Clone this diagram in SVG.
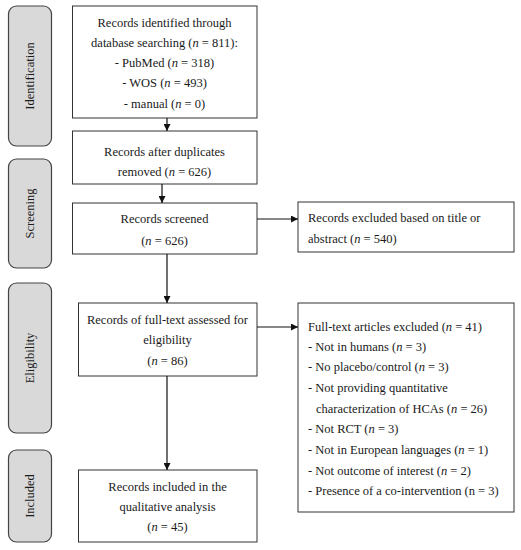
<svg xmlns="http://www.w3.org/2000/svg" width="521" height="550" viewBox="0 0 521 550">
<style>
text{font-family:"Liberation Serif","Times New Roman",serif;font-size:12.5px;fill:#1a1a1a}
.c{text-anchor:middle}
.box{fill:#fff;stroke:#333;stroke-width:1}
.side{fill:#d9d9d9;stroke:#444;stroke-width:1.2}
.ln{stroke:#111;stroke-width:1.2;fill:none;marker-end:url(#ah)}
i,.it{font-style:italic}
</style>
<defs>
<marker id="ah" viewBox="0 0 10 10" refX="10" refY="5" markerWidth="7" markerHeight="7" markerUnits="userSpaceOnUse" orient="auto">
<path d="M0,0 L10,5 L0,10 z" fill="#111"/>
</marker>
</defs>
<rect width="521" height="550" fill="#fff"/>
<g id="stage-identification"><rect class="side" x="8.5" y="6" width="43" height="140" rx="8"/><text class="c" transform="translate(34,76) rotate(-90)">Identification</text></g>
<g id="stage-screening"><rect class="side" x="8.5" y="159" width="43" height="109" rx="8"/><text class="c" transform="translate(34,213.5) rotate(-90)">Screening</text></g>
<g id="stage-eligibility"><rect class="side" x="8.5" y="283" width="43" height="150" rx="8"/><text class="c" transform="translate(34,358) rotate(-90)">Eligibility</text></g>
<g id="stage-included"><rect class="side" x="8.5" y="450" width="43" height="92" rx="8"/><text class="c" transform="translate(34,496) rotate(-90)">Included</text></g>

<g id="identified"><rect class="box" x="72.5" y="6" width="184.5" height="112"/>
<text class="c" x="164.5" y="27">Records identified through</text>
<text class="c" x="164.5" y="47">database searching (<tspan class="it">n</tspan> = 811):</text>
<text class="c" x="164.5" y="67">- PubMed (<tspan class="it">n</tspan> = 318)</text>
<text class="c" x="164.5" y="87">- WOS (<tspan class="it">n</tspan> = 493)</text>
<text class="c" x="164.5" y="108">- manual (<tspan class="it">n</tspan> = 0)</text></g>

<g id="deduplicated"><rect class="box" x="72.5" y="131" width="184.5" height="53"/>
<text class="c" x="164.5" y="156">Records after duplicates</text>
<text class="c" x="164.5" y="176">removed (<tspan class="it">n</tspan> = 626)</text></g>

<g id="screened"><rect class="box" x="72.5" y="203" width="184.5" height="51"/>
<text class="c" x="164.5" y="223">Records screened</text>
<text class="c" x="164.5" y="245">(<tspan class="it">n</tspan> = 626)</text></g>

<g id="excluded-title"><rect class="box" x="298" y="202" width="216" height="50"/>
<text x="308" y="222">Records excluded based on title or</text>
<text x="308" y="243">abstract (<tspan class="it">n</tspan> = 540)</text></g>

<g id="fulltext"><rect class="box" x="78.5" y="303" width="178.5" height="73"/>
<text class="c" x="167.5" y="324">Records of full-text assessed for</text>
<text class="c" x="167.5" y="344">eligibility</text>
<text class="c" x="167.5" y="365">(<tspan class="it">n</tspan> = 86)</text></g>

<g id="excluded-fulltext"><rect class="box" x="298" y="303" width="216" height="209"/>
<text x="308" y="331">Full-text articles excluded (<tspan class="it">n</tspan> = 41)</text>
<text x="308" y="351">- Not in humans (<tspan class="it">n</tspan> = 3)</text>
<text x="308" y="371">- No placebo/control (<tspan class="it">n</tspan> = 3)</text>
<text x="308" y="392">- Not providing quantitative</text>
<text x="316" y="413">characterization of HCAs (<tspan class="it">n</tspan> = 26)</text>
<text x="308" y="433">- Not RCT (<tspan class="it">n</tspan> = 3)</text>
<text x="308" y="454">- Not in European languages (<tspan class="it">n</tspan> = 1)</text>
<text x="308" y="475">- Not outcome of interest (<tspan class="it">n</tspan> = 2)</text>
<text x="308" y="495">- Presence of a co-intervention (n = 3)</text></g>

<g id="included"><rect class="box" x="78.5" y="470" width="178.5" height="72"/>
<text class="c" x="167.5" y="491">Records included in the</text>
<text class="c" x="167.5" y="511">qualitative analysis</text>
<text class="c" x="167.5" y="531">(<tspan class="it">n</tspan> = 45)</text></g>

<g id="connectors">
<line class="ln" x1="167" y1="118" x2="167" y2="131"/>
<line class="ln" x1="162" y1="184" x2="162" y2="203"/>
<line class="ln" x1="167" y1="254" x2="167" y2="303"/>
<line class="ln" x1="167" y1="376" x2="167" y2="470"/>
<line class="ln" x1="257" y1="219" x2="298" y2="219"/>
<line class="ln" x1="257" y1="327" x2="298" y2="327"/>
</g>
</svg>
